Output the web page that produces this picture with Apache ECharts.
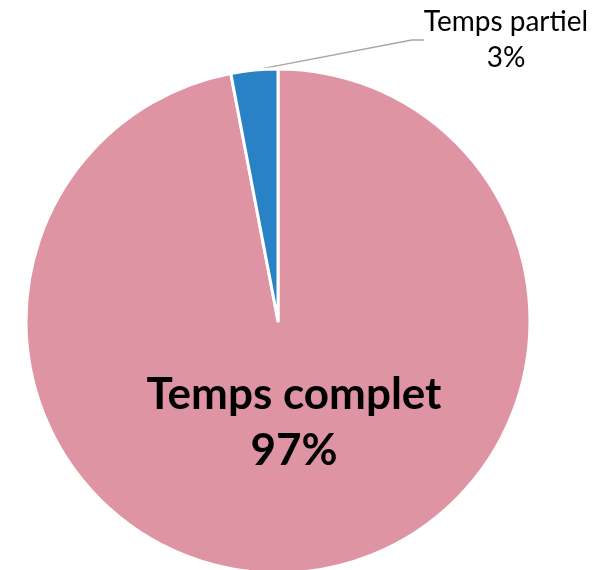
<!DOCTYPE html>
<html>
  <head>
    <meta charset="utf-8">
    <title>Temps complet / partiel</title>
    <script src="https://cdn.jsdelivr.net/npm/echarts@6/dist/echarts.min.js"></script>
    <style type="text/css">
      html, body { margin: 0; padding: 0; background: #fff; }
      #main { width: 605px; height: 570px; }
    </style>
  </head>
  <body>
    <div id="main"></div>
    <script type="text/javascript">
      // categories and shares (%)
      var names = ['Temps complet', 'Temps partiel'];
      var values = [97, 3];
      var colors = ['#DF94A4', '#2A82C6'];

      var myChart = echarts.init(document.getElementById('main'));

      var option = {
        animation: false,
        series: [
          {
            type: 'pie',
            center: [278, 321],
            radius: 252,
            startAngle: 90,
            clockwise: true,
            itemStyle: { borderColor: '#fff', borderWidth: 3 },
            label: {
              show: true,
              formatter: '{b}\n{c}%',
              color: '#000',
              fontFamily: 'Lato',
              fontSize: 28,
              lineHeight: 36,
              align: 'center'
            },
            labelLine: {
              show: true,
              lineStyle: { color: '#A6A6A6', width: 1.5 }
            },
            labelLayout: function (params) {
              if (params.dataIndex === 0) {
                return { x: 294, y: 423, align: 'center', verticalAlign: 'middle' };
              }
              return { x: 506, y: 40, align: 'center', verticalAlign: 'middle' };
            },
            data: [
              {
                name: names[0], value: values[0], itemStyle: { color: colors[0] },
                label: { position: 'inside', fontSize: 44, fontWeight: 'bold', lineHeight: 56 },
                labelLine: { show: false }
              },
              {
                name: names[1], value: values[1], itemStyle: { color: colors[1] },
                label: { position: 'outside' },
                labelLine: { length: 10, length2: 12 }
              }
            ]
          }
        ]
      };

      myChart.setOption(option);
    </script>
  </body>
</html>
